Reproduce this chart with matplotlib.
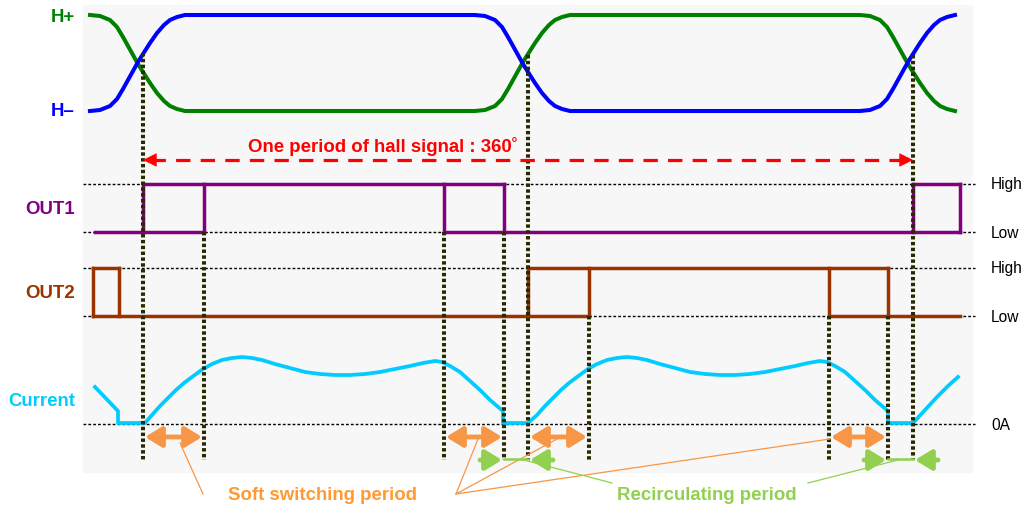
import numpy as np
import matplotlib
matplotlib.use('Agg')
from matplotlib import pyplot as plt
from matplotlib.patches import Rectangle, FancyArrowPatch

plt.rcParams['font.family'] = ['Liberation Sans', 'DejaVu Sans']

# hall signal levels and one S-shaped transition
hall_top, hall_bot = 15, 111
hall_dx = [0, 10, 20, 27, 33, 38, 43, 48, 53, 60, 67, 74, 80, 87, 95]
hall_fall = [15, 16, 20, 27, 37, 46, 55, 64, 72, 83, 93, 101, 106, 109, 111]
hall_starts = [90, 475, 860]

# vertical dotted markers (x, top of line)
mark_x = [143, 204, 444, 504, 528, 589, 829, 888, 913]
mark_top = [53, 232, 232, 232, 55, 316, 316, 316, 55]
mark_bot = 460

# logic levels
out1_hi, out1_lo = 184, 232
out2_hi, out2_lo = 268, 316
zero_a = 424
ref_levels = [out1_hi, out1_lo, out2_hi, out2_lo, zero_a]
ref_labels = ['High', 'Low', 'High', 'Low', '0A']

out1_high = [(143, 504), (913, 960)]
out1_low = [(95, 204), (444, 960)]
out1_edges = [143, 204, 444, 504, 913, 960]

out2_high = [(93, 119), (528, 888)]
out2_low = [(93, 589), (829, 960)]
out2_edges = [93, 119, 528, 589, 829, 888]

# motor current trace
cur_x = [95, 118, 118,
         145, 152, 160, 168, 176, 184, 192, 203, 212, 222, 232, 242, 252, 262, 275, 290,
         305, 320, 335, 350, 365, 380, 395, 410, 423, 435, 442, 450, 460, 470, 480, 490,
         497, 503, 503,
         528, 537, 545, 553, 561, 569, 577, 588, 597, 607, 617, 627, 637, 647, 660, 675,
         690, 705, 720, 735, 750, 765, 780, 795, 808, 820, 827, 835, 845, 855, 865, 875,
         882, 888, 888,
         913, 925, 937, 948, 958]
cur_y = [387, 411, 423,
         423, 415, 406, 398, 390, 383, 377, 369, 364, 360, 358, 357, 358, 360, 364, 368,
         372, 374, 375, 375, 374, 372, 369, 366, 363, 361, 362, 366, 372, 381, 390, 400,
         406, 411, 423,
         423, 415, 406, 398, 390, 383, 377, 369, 364, 360, 358, 357, 358, 360, 364, 368,
         372, 374, 375, 375, 374, 372, 369, 366, 363, 361, 362, 366, 372, 381, 390, 400,
         406, 411, 423,
         423, 410, 397, 386, 377]

soft_spans = [(143, 204), (444, 504), (528, 589), (829, 888)]
recirc_spans = [(504, 528), (888, 913)]

GREEN = '#008000'
BLUE = '#0000FF'
PURPLE = '#800080'
BROWN = '#993300'
CYAN = '#00CCFF'
ORANGE = '#F79646'
ORANGE_TXT = '#FF9933'
LGREEN = '#92D050'
DOT = '#2A2A00'

fig = plt.figure(figsize=(10.28, 5.11), dpi=100)
ax = fig.add_axes([0, 0, 1, 1])
ax.set_xlim(0, 1028)
ax.set_ylim(511, 0)
ax.axis('off')

ax.add_patch(Rectangle((83, 5), 889, 467, color='#F7F7F7', zorder=0))

# hall signals
def hall_curve(first_falls):
    xs, ys = [], []
    falls = first_falls
    for s in hall_starts:
        for dx, y in zip(hall_dx, hall_fall):
            xs.append(s + dx)
            ys.append(y if falls else hall_top + hall_bot - y)
        falls = not falls
    return xs, ys

gx, gy = hall_curve(True)
bx, by = hall_curve(False)
ax.plot(gx, gy, color=GREEN, lw=2.9, zorder=3, solid_joinstyle='round')
ax.plot(bx, by, color=BLUE, lw=2.9, zorder=3, solid_joinstyle='round')

# reference dotted lines and right labels
for lvl, lab in zip(ref_levels, ref_labels):
    ax.plot([83, 975], [lvl, lvl], color='black', lw=1.0, dashes=(2, 1.5), zorder=1)
    ax.text(991, lvl + 1, lab, fontsize=11.2, va='center', ha='left')

# digital outputs
def draw_out(highs, lows, edges, hi, lo, color):
    for a, b in highs:
        ax.plot([a, b], [hi, hi], color=color, lw=2.5, zorder=3, solid_capstyle='projecting')
    for a, b in lows:
        ax.plot([a, b], [lo, lo], color=color, lw=2.5, zorder=3, solid_capstyle='projecting')
    for e in edges:
        ax.plot([e, e], [hi, lo], color=color, lw=2.5, zorder=3, solid_capstyle='projecting')

draw_out(out1_high, out1_low, out1_edges, out1_hi, out1_lo, PURPLE)
draw_out(out2_high, out2_low, out2_edges, out2_hi, out2_lo, BROWN)

# current
ax.plot(cur_x, cur_y, color=CYAN, lw=2.7, zorder=3, solid_joinstyle='round')

# vertical markers
for x, top in zip(mark_x, mark_top):
    ax.plot([x, x], [top, mark_bot], color=DOT, lw=2.9, dashes=(0.85, 0.6), zorder=4)

# period arrow
px0, px1, py = mark_x[0], mark_x[-1], 160
ax.plot([px0 + 8, px1 - 8], [py, py], color='red', lw=2.3, dashes=(4.5, 3.2), zorder=5)
for tip, tail in [(px0, px0 + 14), (px1, px1 - 14)]:
    ax.annotate('', xy=(tip, py), xytext=(tail, py),
                arrowprops=dict(arrowstyle='-|>,head_length=0.9,head_width=0.45',
                                color='red', lw=0.5, shrinkA=0, shrinkB=0), zorder=5)
ax.text(383, 147, 'One period of hall signal : 360˚', color='red', fontsize=13.4,
        fontweight='bold', ha='center', va='center')

# soft switching arrows
arrow_kw = dict(mutation_scale=16, lw=3.5, shrinkA=0, shrinkB=0, zorder=5)
head = 'head_length=0.62,head_width=0.38'
for a, b in soft_spans:
    ax.add_patch(FancyArrowPatch((a + 2, 437), (b - 2, 437),
                                 arrowstyle='<|-|>,' + head, color=ORANGE, **arrow_kw))

# recirculating arrows
for a, b in recirc_spans:
    ax.plot([a, b], [459, 459], color=LGREEN, lw=1.8, zorder=5)
    ax.add_patch(FancyArrowPatch((a - 24, 460), (a - 2, 460),
                                 arrowstyle='-|>,' + head, color=LGREEN, **arrow_kw))
    ax.add_patch(FancyArrowPatch((b + 25, 460), (b + 2, 460),
                                 arrowstyle='-|>,' + head, color=LGREEN, **arrow_kw))

# callout lines
soft_links = [((203, 494), (180, 443)), ((456, 494), (478, 439)),
              ((456, 494), (557, 439)), ((456, 494), (830, 439))]
recirc_links = [((612, 483), (520, 459)), ((808, 483), (898, 460))]
for (x0, y0), (x1, y1) in soft_links:
    ax.plot([x0, x1], [y0, y1], color=ORANGE, lw=0.9, zorder=4)
for (x0, y0), (x1, y1) in recirc_links:
    ax.plot([x0, x1], [y0, y1], color=LGREEN, lw=0.9, zorder=4)

ax.text(322, 496, 'Soft switching period', color=ORANGE_TXT, fontsize=13.4,
        fontweight='bold', ha='center', va='center')
ax.text(707, 496, 'Recirculating period', color=LGREEN, fontsize=13.4,
        fontweight='bold', ha='center', va='center')

# left labels
left = [('H+', 17, GREEN), ('H\u2013', 112, BLUE), ('OUT1', 209, PURPLE),
        ('OUT2', 294, BROWN), ('Current', 401, CYAN)]
for lab, y, c in left:
    ax.text(75, y, lab, color=c, fontsize=13.4, fontweight='bold', ha='right', va='center')

fig.savefig('out.png', dpi=100)
